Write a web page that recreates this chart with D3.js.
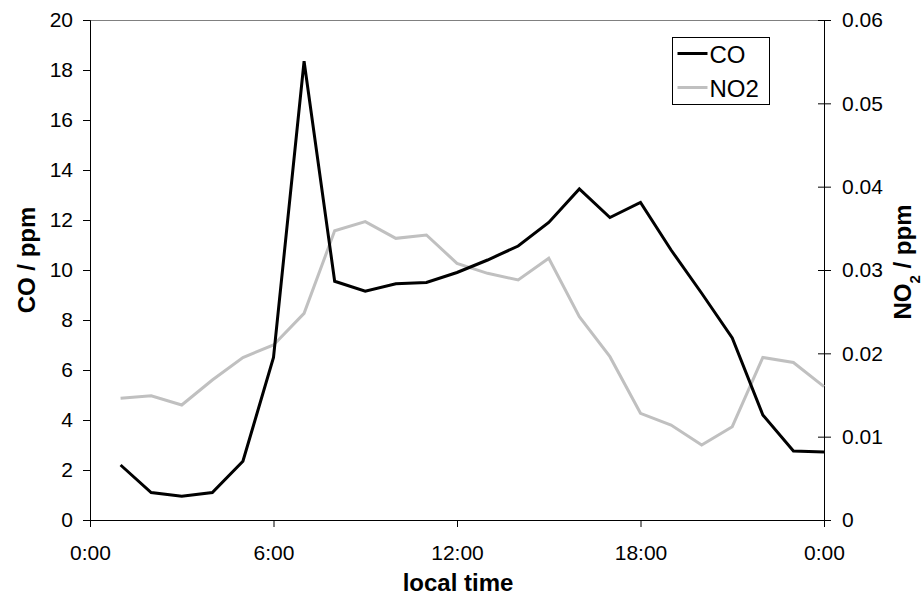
<!DOCTYPE html>
<html>
<head>
<meta charset="utf-8">
<script src="https://cdn.jsdelivr.net/npm/d3@7"></script>
<style>
  body { margin: 0; background: #fff; }
  text { font-family: Arial, "Liberation Sans", sans-serif; fill: #000; }
</style>
</head>
<body>
<div id="chart"></div>
<script>
var hours = [1,2,3,4,5,6,7,8,9,10,11,12,13,14,15,16,17,18,19,20,21,22,23,24];
var coValues = [2.2,1.1,0.95,1.1,2.35,6.5,18.35,9.55,9.15,9.45,9.5,9.9,10.4,10.96,11.9,13.24,12.1,12.7,10.8,9.07,7.28,4.2,2.76,2.72];
var no2Values = [0.0146,0.0149,0.0138,0.0168,0.0195,0.021,0.0248,0.0347,0.0358,0.0338,0.0342,0.0308,0.0296,0.0288,0.0314,0.0244,0.0196,0.0128,0.0114,0.009,0.0112,0.0195,0.0189,0.016];
var xTicks = [0,6,12,18,24];
var xTickLabels = ["0:00","6:00","12:00","18:00","0:00"];
var coTicks = [0,2,4,6,8,10,12,14,16,18,20];
var no2Ticks = [0,0.01,0.02,0.03,0.04,0.05,0.06];

var width = 923, height = 595;
var plotLeft = 90, plotRight = 824, plotTop = 20, plotBottom = 520;
var tickFont = "21px";

var svg = d3.select("#chart").append("svg")
  .attr("width", width)
  .attr("height", height);

var x = d3.scaleLinear().domain([0, 24]).range([plotLeft, plotRight]);
var yCo = d3.scaleLinear().domain([0, 20]).range([plotBottom, plotTop]);
var yNo2 = d3.scaleLinear().domain([0, 0.06]).range([plotBottom, plotTop]);

// top border of plot area
svg.append("line")
  .attr("x1", plotLeft).attr("x2", plotRight)
  .attr("y1", plotTop + 0.5).attr("y2", plotTop + 0.5)
  .attr("stroke", "#808080").attr("stroke-width", 1);

// left axis
var leftAxis = svg.append("g")
  .attr("transform", "translate(" + plotLeft + ",0)")
  .call(d3.axisLeft(yCo).tickValues(coTicks).tickSize(7).tickPadding(10));
leftAxis.select(".domain").attr("stroke", "#000");
leftAxis.selectAll("text").style("font-size", tickFont);

// right axis, ticks cross the axis line
var rightAxis = svg.append("g")
  .attr("transform", "translate(" + plotRight + ",0)")
  .call(d3.axisRight(yNo2).tickValues(no2Ticks).tickSize(0).tickPadding(18)
    .tickFormat(function(d) { return d === 0 ? "0" : d3.format(".2f")(d); }));
rightAxis.selectAll(".tick").append("line")
  .attr("x1", -6).attr("x2", 7).attr("stroke", "#000");
rightAxis.select(".domain").attr("stroke", "#000");
rightAxis.selectAll("text").style("font-size", tickFont);

// bottom axis
var bottomAxis = svg.append("g")
  .attr("transform", "translate(0," + plotBottom + ")")
  .call(d3.axisBottom(x).tickValues(xTicks).tickSize(7).tickPadding(18)
    .tickFormat(function(d, i) { return xTickLabels[i]; }));
bottomAxis.select(".domain").attr("stroke", "#000");
bottomAxis.selectAll("text").style("font-size", tickFont);

// lines
var coLine = d3.line()
  .x(function(d, i) { return x(hours[i]); })
  .y(function(d) { return yCo(d); });
var no2Line = d3.line()
  .x(function(d, i) { return x(hours[i]); })
  .y(function(d) { return yNo2(d); });

svg.append("path")
  .datum(no2Values)
  .attr("d", no2Line)
  .attr("fill", "none")
  .attr("stroke", "#c0c0c0")
  .attr("stroke-width", 3);

svg.append("path")
  .datum(coValues)
  .attr("d", coLine)
  .attr("fill", "none")
  .attr("stroke", "#000")
  .attr("stroke-width", 3);

// axis titles
svg.append("text")
  .attr("transform", "translate(35,260) rotate(-90)")
  .attr("text-anchor", "middle")
  .style("font-size", "24px").style("font-weight", "bold")
  .text("CO / ppm");

var t2 = svg.append("text")
  .attr("transform", "translate(911,262) rotate(-90)")
  .attr("text-anchor", "middle")
  .style("font-size", "24px").style("font-weight", "bold");
t2.append("tspan").text("NO");
t2.append("tspan").attr("baseline-shift", "sub").style("font-size", "15px").text("2");
t2.append("tspan").text(" / ppm");

svg.append("text")
  .attr("x", (plotLeft + plotRight) / 2 + 1).attr("y", 591)
  .attr("text-anchor", "middle")
  .style("font-size", "24px").style("font-weight", "bold")
  .text("local time");

// legend
var legend = svg.append("g").attr("transform", "translate(672.5,37.5)");
legend.append("rect")
  .attr("width", 97).attr("height", 67)
  .attr("fill", "#fff").attr("stroke", "#000");
var legendItems = [{name: "CO", color: "#000"}, {name: "NO2", color: "#c0c0c0"}];
legendItems.forEach(function(item, i) {
  var yy = 16 + i * 34;
  legend.append("line")
    .attr("x1", 5).attr("x2", 35)
    .attr("y1", yy).attr("y2", yy)
    .attr("stroke", item.color).attr("stroke-width", 3);
  legend.append("text")
    .attr("x", 37).attr("y", yy + 9)
    .style("font-size", "24px")
    .text(item.name);
});
</script>
</body>
</html>
